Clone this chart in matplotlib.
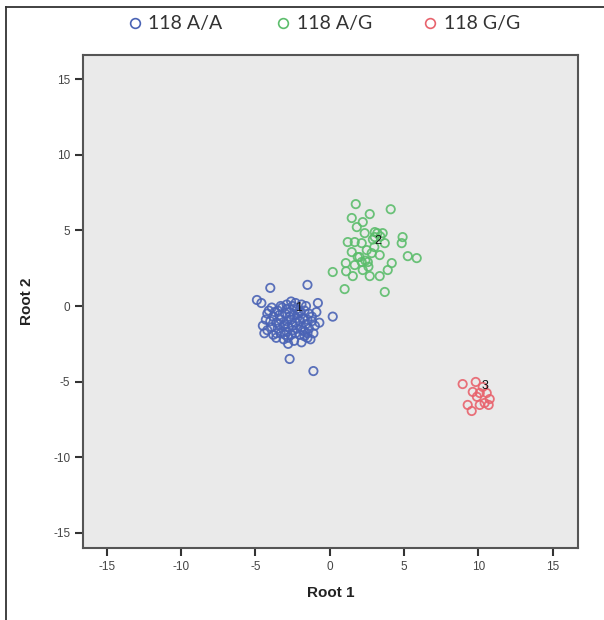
import matplotlib
matplotlib.use("Agg")
import matplotlib.pyplot as plt
from matplotlib.lines import Line2D

# ---- data ----
groups = ["118 A/A", "118 A/G", "118 G/G"]
colors = ["#4a63b5", "#5cbd6c", "#e8636d"]

blue_x = [-4.9, -4.0, -1.5, -4.6, -4.2, -4.2, -3.6, -3.0, -2.8, -2.7, -1.1, 0.2, -0.7, -0.8, -1.5, -1.8, -0.9,
          -3.5, -3.2, -2.9, -2.5, -2.2, -1.9, -1.7, -1.4,
          -3.8, -3.4, -3.0, -2.7, -2.4, -2.1, -1.8, -1.5,
          -4.0, -3.6, -3.3, -2.9, -2.6, -2.3, -2.0, -1.6, -1.2,
          -3.9, -3.5, -3.1, -2.8, -2.5, -2.2, -1.9, -1.4,
          -3.3, -2.9, -2.6, -2.3, -2.0, -1.7,
          -3.7, -4.3, -4.5, -3.1, -2.4, -1.9, -1.3,
          -2.7, -3.0, -2.2, -2.5, -3.4, -1.7, -2.9, -2.0,
          -1.2, -1.0, -3.8, -4.1, -2.6, -3.3, -1.6, -2.3,
          -3.6, -2.8, -1.5, -1.1, -4.4, -3.9]
blue_y = [0.4, 1.2, 1.4, 0.2, -0.5, -1.6, -1.8, -1.9, -2.5, -3.5, -4.3, -0.7, -1.1, 0.2, -2.1, -1.6, -0.4,
          -0.3, -0.1, 0.1, 0.0, -0.2, 0.1, -0.3, -0.5,
          -0.7, -0.6, -0.5, -0.4, -0.6, -0.5, -0.8, -0.9,
          -1.0, -1.1, -0.9, -1.0, -0.9, -1.1, -1.0, -1.2, -1.0,
          -1.4, -1.5, -1.3, -1.4, -1.3, -1.5, -1.4, -1.5,
          -1.8, -1.7, -1.9, -1.8, -1.9, -2.0,
          -0.4, -0.9, -1.3, -2.2, -2.3, -2.4, -2.2,
          -0.7, -1.2, -0.8, -1.6, -1.2, -1.7, -0.2, -0.4,
          -0.7, -1.3, -1.9, -0.3, 0.3, 0.0, 0.0, 0.2,
          -2.1, -2.1, -1.8, -1.8, -1.8, -0.1]

green_x = [1.75, 4.1, 2.69, 1.48, 2.22, 1.82, 2.35, 3.03, 3.56, 4.9, 4.84, 1.21, 1.68, 2.15, 3.7,
           1.48, 1.88, 2.49, 3.36, 5.25, 5.85, 1.68, 2.15, 2.56, 1.08, 0.2, 1.55, 2.69, 3.36, 4.17,
           3.9, 1.0, 3.7, 2.22, 2.0, 3.03, 3.2, 2.82, 2.9, 3.4, 2.4, 1.1, 3.0, 2.6]
green_y = [6.74, 6.4, 6.08, 5.82, 5.55, 5.22, 4.82, 4.89, 4.82, 4.56, 4.16, 4.23, 4.23, 4.16, 4.16,
           3.57, 3.24, 3.7, 3.37, 3.3, 3.17, 2.71, 2.91, 2.91, 2.84, 2.25, 1.98, 1.98, 1.98, 2.84,
           2.38, 1.12, 0.93, 2.38, 3.24, 4.56, 4.82, 3.5, 4.4, 4.6, 3.0, 2.3, 3.9, 2.6]

red_x = [8.94, 9.82, 9.62, 10.29, 10.09, 10.56, 10.76, 10.69, 10.09, 9.28, 9.55, 10.42, 9.9]
red_y = [-5.16, -5.02, -5.68, -5.35, -5.75, -5.75, -6.15, -6.54, -6.54, -6.54, -6.94, -6.41, -6.0]

centroid_x = [-2.08, 3.23, 10.42]
centroid_y = [-0.13, 4.30, -5.29]
centroid_labels = ["1", "2", "3"]

xlim = (-16.6, 16.7)
ylim = (-16.0, 16.6)
ticks = [-15, -10, -5, 0, 5, 10, 15]

# ---- figure ----
W, H = 604, 620
fig = plt.figure(figsize=(W/100, H/100), dpi=100)
ax = fig.add_axes([83/W, 1-548/H, (578-83)/W, (548-55)/H])
ax.set_facecolor("#eaeaea")

series = [(blue_x, blue_y), (green_x, green_y), (red_x, red_y)]
for (xs, ys), c in zip(series, colors):
    ax.scatter(xs, ys, s=36, facecolors="none", edgecolors=c, linewidths=1.3, alpha=0.9, zorder=3)

for cx, cy, lab in zip(centroid_x, centroid_y, centroid_labels):
    ax.text(cx, cy, lab, fontsize=9, color="#111111", ha="center", va="center",
            family="Liberation Sans", zorder=5)

ax.set_xlim(*xlim)
ax.set_ylim(*ylim)
ax.set_xticks(ticks)
ax.set_yticks(ticks)
ax.set_xticklabels([str(t) for t in ticks], family="Liberation Sans")
ax.set_yticklabels([str(t) for t in ticks], family="Liberation Sans")
ax.tick_params(direction="out", length=6, width=1.5, colors="#333333", labelsize=8.5,
               labelcolor="#444444", pad=3)
for s in ax.spines.values():
    s.set_color("#555555")
    s.set_linewidth(1.5)

ax.set_xlabel("Root 1", fontsize=11, fontweight="bold", family="Liberation Sans", labelpad=10, color="#222222")
ax.set_ylabel("Root 2", fontsize=11, fontweight="bold", family="Liberation Sans", labelpad=14, color="#222222")

# legend (placed manually in figure pixels)
marker_px = [135, 283, 430]
text_px = [148, 297, 444]
ly = 1 - 23/H
for mx, tx, c, g in zip(marker_px, text_px, colors, groups):
    fig.add_artist(Line2D([mx/W], [ly], transform=fig.transFigure, linestyle="none", marker="o",
                          markersize=7, markerfacecolor="none", markeredgecolor=c, markeredgewidth=1.2))
    fig.text(tx/W, ly, g, ha="left", va="center", family="Lato", fontsize=14, color="#333333")

# outer frame lines
fig.add_artist(Line2D([6/W, 6/W], [0, 1-7/H], transform=fig.transFigure, color="#333333", lw=1.3))
fig.add_artist(Line2D([6/W, 1], [1-7/H, 1-7/H], transform=fig.transFigure, color="#333333", lw=1.3))

fig.savefig("out.png", dpi=100, facecolor="white")
